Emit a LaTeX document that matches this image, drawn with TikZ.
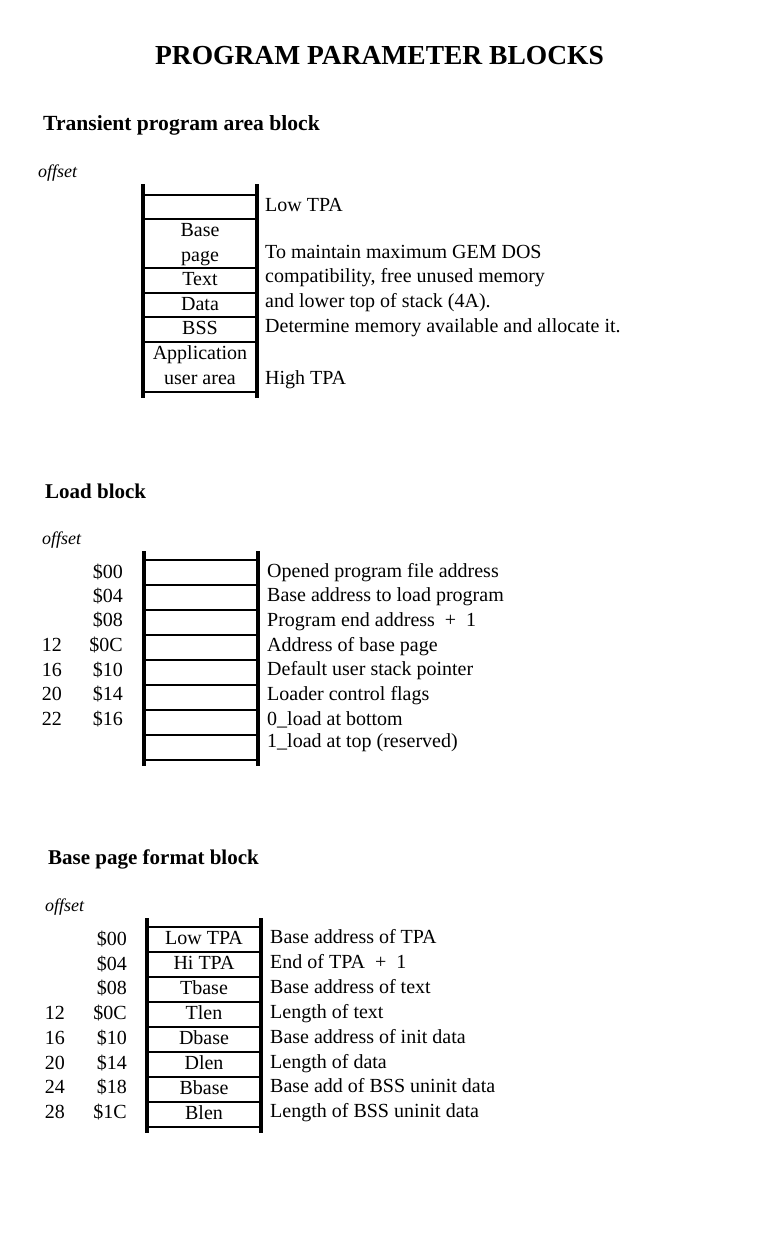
\documentclass[tikz,border=0pt]{standalone}
\usepackage{fontspec}
\setmainfont{Liberation Serif}
\usetikzlibrary{positioning}
\tikzstyle{cell} = [rectangle, draw, line width=2.5pt, minimum width=114pt, minimum height=25pt, inner sep=0pt, outer sep=0pt, align=center, text height=14pt, text depth=4pt, font=\fontsize{20}{25}\selectfont]
\tikzstyle{tallcell} = [cell, minimum height=49pt, text height=39pt, text depth=4pt]
\tikzstyle{rail} = [line width=4pt]
\tikzstyle{desc} = [anchor=west, inner sep=0pt, text height=14pt, text depth=4pt, font=\fontsize{20}{24}\selectfont]
\tikzstyle{addr} = [desc, anchor=east]
\tikzstyle{heading} = [anchor=base west, inner sep=0pt, font=\fontsize{21}{24}\selectfont\bfseries]
\tikzstyle{offsetlbl} = [anchor=base west, inner sep=0pt, font=\fontsize{18}{20}\selectfont\itshape]
\begin{document}
\begin{tikzpicture}[x=1pt, y=-1pt]
    \useasboundingbox (0,0) rectangle (759,1240);

    % Title
    \node[anchor=base, inner sep=0pt, font=\fontsize{27.5}{30}\selectfont\bfseries] (title) at (379.5,64) {PROGRAM PARAMETER BLOCKS};

    % Transient program area block
    \node[heading, font=\fontsize{21.6}{24}\selectfont\bfseries] (tpahead) at (43,130) {Transient program area block};
    \node[offsetlbl] (tpaoff) at (38,177) {offset};
    \node[cell, minimum height=24pt] (tpa1) at (200,207) {};
    \node[tallcell] (tpa2) at (200,243.5) {Base\\page};
    \node[cell] (tpa3) at (200,280.5) {Text};
    \node[cell, minimum height=24pt] (tpa4) at (200,305) {Data};
    \node[cell] (tpa5) at (200,329.5) {BSS};
    \node[tallcell, minimum height=50pt] (tpa6) at (200,367) {Application\\user area};
    \draw[rail] ([yshift=11pt]tpa1.north west) -- ([yshift=-6pt]tpa6.south west);
    \draw[rail] ([yshift=11pt]tpa1.north east) -- ([yshift=-6pt]tpa6.south east);
    \node[desc] (tpalow) at (265,206) {Low TPA};
    \node[desc] (tpanote1) at (265,253) {To maintain maximum GEM DOS};
    \node[desc, below right=6.3pt and 0pt of tpanote1.south west] (tpanote2) {compatibility, free unused memory};
    \node[desc, below right=6.3pt and 0pt of tpanote2.south west] (tpanote3) {and lower top of stack (4A).};
    \node[desc, below right=6.3pt and 0pt of tpanote3.south west] (tpanote4) {Determine memory available and allocate it.};
    \node[desc] (tpahigh) at (265,379) {High TPA};

    % Load block
    \node[heading] (ldhead) at (45,498) {Load block};
    \node[offsetlbl] (ldoff) at (42,544) {offset};
    \node[cell] (ld1) at (201,572.5) {};
    \node[cell] (ld2) at (201,597.5) {};
    \node[cell] (ld3) at (201,622.5) {};
    \node[cell] (ld4) at (201,647.5) {};
    \node[cell] (ld5) at (201,672.5) {};
    \node[cell] (ld6) at (201,697.5) {};
    \node[cell] (ld7) at (201,722.5) {};
    \node[cell] (ld8) at (201,747.5) {};
    \draw[rail] ([yshift=9pt]ld1.north west) -- ([yshift=-6pt]ld8.south west);
    \draw[rail] ([yshift=9pt]ld1.north east) -- ([yshift=-6pt]ld8.south east);
    \node[addr] (ldaddr1) at (123,573) {\$00};
    \node[addr] (ldaddr2) at (123,597) {\$04};
    \node[addr] (ldaddr3) at (123,621) {\$08};
    \node[addr] (ldaddr4) at (123,646) {\$0C};
    \node[addr] (ldaddr5) at (123,671) {\$10};
    \node[addr] (ldaddr6) at (123,695) {\$14};
    \node[addr] (ldaddr7) at (123,720) {\$16};
    \node[addr] (lddec4) at (62,646) {12};
    \node[addr] (lddec5) at (62,671) {16};
    \node[addr] (lddec6) at (62,695) {20};
    \node[addr] (lddec7) at (62,720) {22};
    \node[desc] (lddesc1) at (267,572) {Opened program file address};
    \node[desc] (lddesc2) at (267,596) {Base address to load program};
    \node[desc] (lddesc3) at (267,621) {Program end address \ + \ 1};
    \node[desc] (lddesc4) at (267,646) {Address of base page};
    \node[desc] (lddesc5) at (267,670) {Default user stack pointer};
    \node[desc] (lddesc6) at (267,695) {Loader control flags};
    \node[desc] (lddesc7) at (267,720) {0\_load at bottom};
    \node[desc] (lddesc8) at (267,742) {1\_load at top (reserved)};

    % Base page format block
    \node[heading] (bphead) at (48,864) {Base page format block};
    \node[offsetlbl] (bpoff) at (45,911) {offset};
    \node[cell] (bp1) at (204,939.5) {Low TPA};
    \node[cell] (bp2) at (204,964.5) {Hi TPA};
    \node[cell] (bp3) at (204,989.5) {Tbase};
    \node[cell] (bp4) at (204,1014.5) {Tlen};
    \node[cell] (bp5) at (204,1039.5) {Dbase};
    \node[cell] (bp6) at (204,1064.5) {Dlen};
    \node[cell] (bp7) at (204,1089.5) {Bbase};
    \node[cell] (bp8) at (204,1114.5) {Blen};
    \draw[rail] ([yshift=9pt]bp1.north west) -- ([yshift=-6pt]bp8.south west);
    \draw[rail] ([yshift=9pt]bp1.north east) -- ([yshift=-6pt]bp8.south east);
    \node[addr] (bpaddr1) at (127,940) {\$00};
    \node[addr] (bpaddr2) at (127,965) {\$04};
    \node[addr] (bpaddr3) at (127,989) {\$08};
    \node[addr] (bpaddr4) at (127,1014) {\$0C};
    \node[addr] (bpaddr5) at (127,1039) {\$10};
    \node[addr] (bpaddr6) at (127,1064) {\$14};
    \node[addr] (bpaddr7) at (127,1088) {\$18};
    \node[addr] (bpaddr8) at (127,1113) {\$1C};
    \node[addr] (bpdec4) at (65,1014) {12};
    \node[addr] (bpdec5) at (65,1039) {16};
    \node[addr] (bpdec6) at (65,1064) {20};
    \node[addr] (bpdec7) at (65,1088) {24};
    \node[addr] (bpdec8) at (65,1113) {28};
    \node[desc] (bpdesc1) at (270,938) {Base address of TPA};
    \node[desc] (bpdesc2) at (270,963) {End of TPA \ + \ 1};
    \node[desc] (bpdesc3) at (270,988) {Base address of text};
    \node[desc] (bpdesc4) at (270,1013) {Length of text};
    \node[desc] (bpdesc5) at (270,1038) {Base address of init data};
    \node[desc] (bpdesc6) at (270,1063) {Length of data};
    \node[desc] (bpdesc7) at (270,1087) {Base add of BSS uninit data};
    \node[desc] (bpdesc8) at (270,1112) {Length of BSS uninit data};
\end{tikzpicture}
\end{document}
